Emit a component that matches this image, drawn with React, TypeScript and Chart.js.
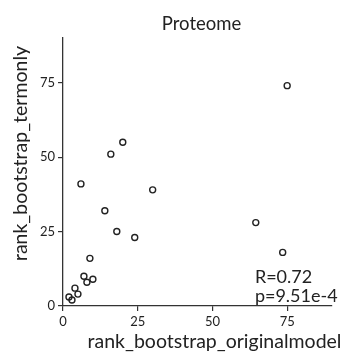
import React, { useEffect, useRef } from "react";
import { Chart, registerables } from "chart.js";

Chart.register(...registerables);

// ---- data ----
const xValues = [75, 64.5, 73.5, 20, 16, 6, 30, 14, 18, 24, 9, 7, 10, 8, 4, 5, 2, 3];
const yValues = [74, 28, 18, 55, 51, 41, 39, 32, 25, 23, 16, 10, 9, 8, 6, 4, 3, 2];
const tickValues = [0, 25, 50, 75];
const axisMin = 0;
const axisMax = 90;
const chartTitle = "Proteome";
const xTitle = "rank_bootstrap_originalmodel";
const yTitle = "rank_bootstrap_termonly";
const statLines = ["R=0.72", "p=9.51e-4"];

const FONT = "Lato, 'Open Sans', sans-serif";
const INK = "#222222";
const AXIS = "#333333";

export default function App() {
  const ref = useRef<HTMLCanvasElement>(null);

  useEffect(() => {
    if (!ref.current) return;

    const textPlugin = {
      id: "texts",
      afterDraw(chart: any) {
        const { ctx, chartArea } = chart;
        const cx = (chartArea.left + chartArea.right) / 2;
        const cy = (chartArea.top + chartArea.bottom) / 2;
        ctx.save();
        ctx.fillStyle = INK;
        ctx.textBaseline = "alphabetic";
        ctx.textAlign = "center";
        ctx.font = `18.5px ${FONT}`;
        ctx.fillText(chartTitle, cx + 4, chartArea.top - 8);

        ctx.font = `19.5px ${FONT}`;
        ctx.fillText(xTitle, cx + 17, chartArea.bottom + 42);

        ctx.save();
        ctx.translate(chartArea.left - 36, cy - 18.5);
        ctx.rotate(-Math.PI / 2);
        ctx.fillText(yTitle, 0, 0);
        ctx.restore();

        ctx.font = `18px ${FONT}`;
        ctx.textAlign = "left";
        const sx = chart.scales.x.getPixelForValue(64.2);
        ctx.fillText(statLines[0], sx, chartArea.bottom - 23);
        ctx.fillText(statLines[1], sx, chartArea.bottom - 4);
        ctx.restore();
      },
    };

    const setTicks = (scale: any) => {
      scale.ticks = tickValues.map((v) => ({ value: v }));
    };

    const chart = new Chart(ref.current, {
      type: "scatter",
      data: {
        datasets: [
          {
            data: xValues.map((x, i) => ({ x, y: yValues[i] })),
            pointStyle: "circle",
            pointRadius: 3,
            pointBorderWidth: 1.4,
            pointBackgroundColor: "rgba(255,255,255,0)",
            pointBorderColor: "#222",
          },
        ],
      },
      options: {
        animation: false,
        responsive: false,
        maintainAspectRatio: false,
        layout: { padding: { top: 38, right: 11, bottom: 0, left: 0 } },
        plugins: {
          legend: { display: false },
          tooltip: { enabled: false },
          title: { display: false },
        },
        scales: {
          x: {
            type: "linear",
            min: axisMin,
            max: axisMax,
            afterBuildTicks: setTicks,
            afterFit: (s: any) => {
              s.height = 50;
            },
            grid: {
              drawOnChartArea: false,
              drawTicks: true,
              tickLength: 5,
              color: AXIS,
              lineWidth: 1.2,
            },
            border: { display: true, color: AXIS, width: 1.3 },
            ticks: {
              font: { family: FONT, size: 13 },
              color: INK,
              padding: 3,
              maxRotation: 0,
            },
          },
          y: {
            type: "linear",
            min: axisMin,
            max: axisMax,
            afterBuildTicks: setTicks,
            afterFit: (s: any) => {
              s.width = 63;
            },
            grid: {
              drawOnChartArea: false,
              drawTicks: true,
              tickLength: 5,
              color: AXIS,
              lineWidth: 1.2,
            },
            border: { display: true, color: AXIS, width: 1.3 },
            ticks: {
              font: { family: FONT, size: 13 },
              color: INK,
              padding: 3,
            },
          },
        },
      },
      plugins: [textPlugin],
    });

    return () => chart.destroy();
  }, []);

  return (
    <div style={{ position: "absolute", left: 0, top: 0, width: 343, height: 356, background: "#fff" }}>
      <canvas ref={ref} width={343} height={356} style={{ width: 343, height: 356 }} />
    </div>
  );
}
